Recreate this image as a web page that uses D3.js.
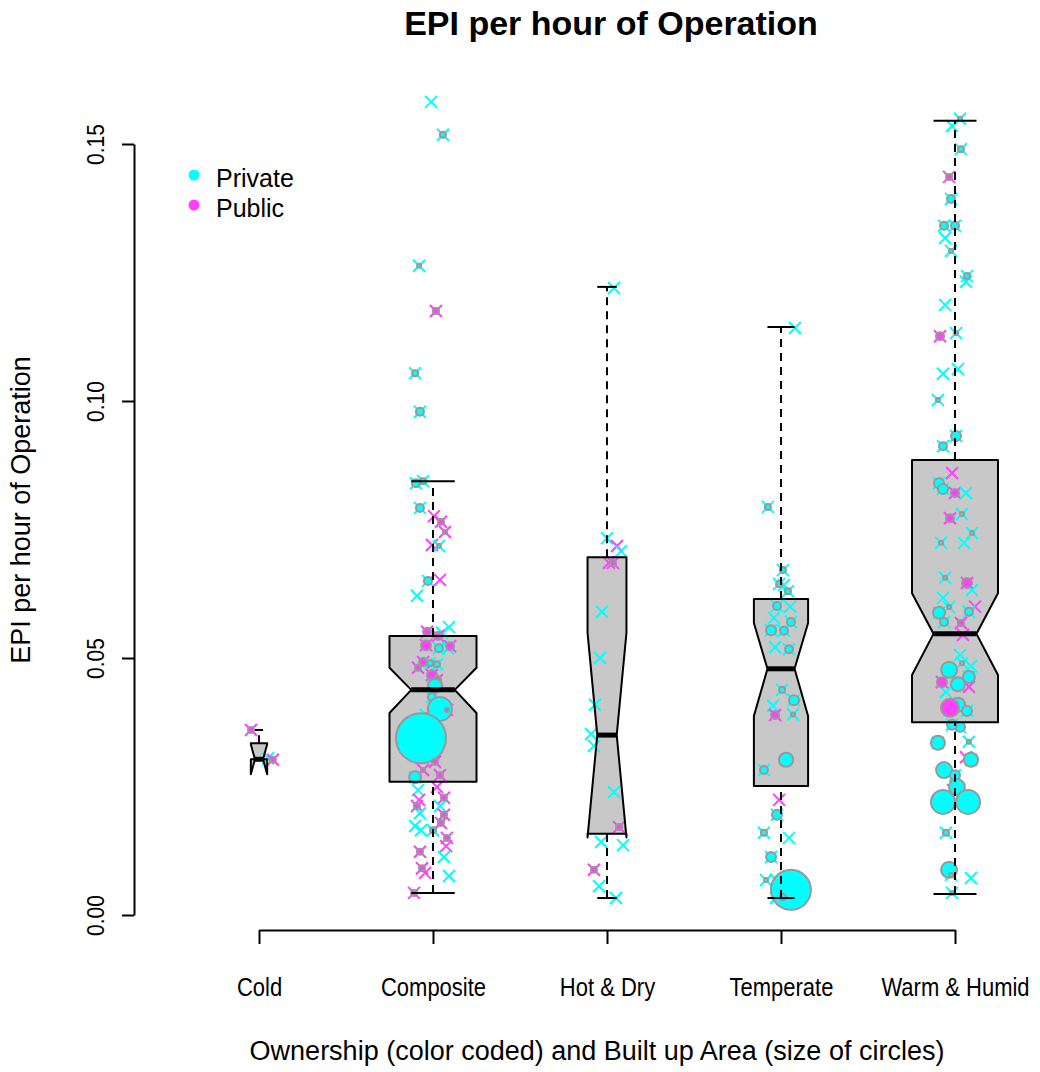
<!DOCTYPE html>
<html><head><meta charset="utf-8">
<script src="https://cdn.jsdelivr.net/npm/d3@7"></script>
<style>
body{margin:0;background:#fff}
svg{display:block}
text{font-family:"Liberation Sans",Arial,Helvetica,sans-serif;fill:#000}
</style>
</head><body>
<svg id="chart" width="1040" height="1072"></svg>
<script>
// ---------------- data ----------------
const categories = ["Cold", "Composite", "Hot & Dry", "Temperate", "Warm & Humid"];
const groupCounts = [3, 85, 17, 33, 83];
// [whiskerLow, q1, median, q3, whiskerHigh, notchLow, notchHigh]
const coldStats      = [0.0302, 0.0303, 0.0303, 0.0334, 0.0360, 0.0274, 0.0332];
const compositeStats = [0.0043, 0.0259, 0.0438, 0.0543, 0.0844, 0.0393, 0.0481];
const hotDryStats    = [0.0033, 0.0158, 0.0350, 0.0696, 0.1222, 0.0151, 0.0549];
const temperateStats = [0.0033, 0.0251, 0.0479, 0.0615, 0.1144, 0.0387, 0.0568];
const warmStats      = [0.0041, 0.0375, 0.0547, 0.0885, 0.1545, 0.0467, 0.0626];
const yTicks = [0, 0.05, 0.10, 0.15];
const ownership = ["Private", "Public"];
const ownerColors = ["#00FFFF", "#FF40FF"];

// points: [EPI per hour, owner (0 private, 1 public), jitter (fraction of category spacing), built-up area (0 = none)]
const coldPoints = [
  [0.0360,1,-0.046,900],[0.0305,0,0.052,0],[0.0302,1,0.080,900]
];
const compositePoints = [
  [0.1582,0,-0.011,0],[0.1518,0,0.057,900],[0.1263,0,-0.080,400],[0.1175,1,0.017,900],
  [0.1054,0,-0.103,900],[0.0979,0,-0.075,1600],[0.0840,0,-0.098,1600],[0.0844,0,-0.057,900],
  [0.0792,0,-0.075,1600],[0.0776,1,0.006,0],[0.0765,1,0.046,900],[0.0745,1,0.069,400],
  [0.0720,1,-0.006,0],[0.0718,0,0.034,400],[0.0650,0,-0.029,1600],[0.0652,1,0.040,0],
  [0.0621,0,-0.092,0],[0.0560,0,0.092,0],[0.0549,0,0.052,0],[0.0551,1,-0.034,1600],
  [0.0543,1,0.029,1600],[0.0523,1,0.098,1600],[0.0525,1,-0.040,2500],[0.0519,0,0.034,1600],
  [0.0519,0,0.086,0],[0.0492,1,-0.057,1600],[0.0481,1,-0.086,900],[0.0490,0,-0.017,900],
  [0.0488,0,0.023,900],[0.0467,1,-0.006,2500],[0.0457,1,0.023,1600],[0.0446,0,0.011,4900],
  [0.0424,0,-0.006,1600],[0.0401,0,0.040,14400],[0.0399,1,0.080,400],[0.0389,0,-0.040,400],
  [0.0375,0,0.006,900],[0.0344,0,-0.069,62500],[0.0298,1,0.011,900],[0.0272,1,0.040,900],
  [0.0268,0,-0.103,3600],[0.0282,1,-0.057,400],[0.0243,0,-0.086,0],[0.0224,1,-0.080,0],
  [0.0249,1,0.023,0],[0.0228,1,0.063,900],[0.0212,0,0.040,0],[0.0212,1,-0.092,900],
  [0.0198,0,-0.075,0],[0.0173,0,-0.103,0],[0.0165,0,0.000,900],[0.0179,1,0.046,900],
  [0.0195,1,0.063,900],[0.0150,1,0.080,900],[0.0134,1,0.075,0],[0.0113,0,0.063,0],
  [0.0123,1,-0.075,900],[0.0091,1,-0.063,900],[0.0082,1,-0.046,0],[0.0076,0,0.092,0],
  [0.0043,1,-0.109,900],[0.0165,0,-0.069,0]
];
const hotDryPoints = [
  [0.1220,0,0.040,0],[0.0733,0,0.000,0],[0.0718,1,0.057,0],[0.0708,0,0.080,0],
  [0.0685,1,0.034,900],[0.0685,1,0.011,0],[0.0590,0,-0.029,0],[0.0500,0,-0.040,0],
  [0.0409,0,-0.069,0],[0.0352,0,-0.092,0],[0.0329,0,-0.075,0],[0.0239,0,0.040,0],
  [0.0171,1,0.069,900],[0.0142,0,-0.034,0],[0.0136,0,0.092,0],[0.0088,1,-0.075,900],
  [0.0056,0,-0.046,0],[0.0033,0,0.052,0]
];
const temperatePoints = [
  [0.1142,0,0.080,0],[0.0794,0,-0.075,900],[0.0671,0,0.011,900],[0.0644,0,-0.011,900],
  [0.0642,0,0.017,0],[0.0630,0,0.040,900],[0.0601,0,-0.023,1600],[0.0600,0,0.052,0],
  [0.0578,0,-0.040,0],[0.0570,0,0.057,1600],[0.0554,0,-0.057,2500],[0.0553,0,0.017,1600],
  [0.0521,0,-0.034,0],[0.0517,0,0.046,1600],[0.0438,0,0.006,900],[0.0407,0,-0.046,0],
  [0.0418,0,0.075,2500],[0.0389,1,-0.034,1600],[0.0390,0,0.069,400],[0.0302,0,0.029,4900],
  [0.0282,0,-0.098,1600],[0.0224,1,-0.011,0],[0.0195,0,-0.023,2500],[0.0160,0,-0.098,900],
  [0.0150,0,0.046,0],[0.0113,0,-0.057,2500],[0.0068,0,-0.086,400],[0.0068,0,-0.029,0],
  [0.0049,0,0.057,40000],[0.0035,0,0.011,900],[0.0033,0,-0.029,0]
];
const warmPoints = [
  [0.1549,0,0.029,400],[0.1535,0,-0.017,0],[0.1490,0,0.034,900],[0.1436,1,-0.034,900],
  [0.1393,0,-0.023,1600],[0.1341,0,-0.063,1600],[0.1341,0,0.000,1600],[0.1317,0,-0.057,0],
  [0.1292,0,-0.023,400],[0.1243,0,0.069,900],[0.1232,0,0.063,0],[0.1187,0,-0.057,0],
  [0.1126,1,-0.086,1600],[0.1132,0,0.006,400],[0.1053,0,-0.069,0],[0.1062,0,0.017,0],
  [0.1002,0,-0.098,400],[0.0932,0,0.006,2500],[0.0912,0,-0.069,1600],[0.0860,1,-0.017,0],
  [0.0840,0,-0.092,2500],[0.0829,0,-0.069,2500],[0.0821,1,0.000,1600],[0.0821,0,0.063,0],
  [0.0772,1,-0.029,1600],[0.0780,0,0.040,400],[0.0743,0,0.098,400],[0.0724,0,-0.080,400],
  [0.0724,0,0.052,0],[0.0656,0,-0.057,400],[0.0646,1,0.069,2500],[0.0632,0,0.098,0],
  [0.0617,0,-0.069,0],[0.0599,0,-0.034,400],[0.0588,0,-0.092,3600],[0.0600,1,0.115,0],
  [0.0590,0,0.080,1600],[0.0570,0,-0.063,1600],[0.0568,1,0.034,900],[0.0545,1,0.046,0],
  [0.0506,0,0.029,0],[0.0490,0,0.040,400],[0.0484,0,0.092,0],[0.0477,0,-0.034,6400],
  [0.0463,0,0.080,3600],[0.0453,1,-0.075,2500],[0.0449,0,0.017,4900],[0.0444,1,0.080,0],
  [0.0434,0,-0.052,0],[0.0409,0,0.017,4900],[0.0403,1,-0.029,8100],[0.0397,0,0.069,2500],
  [0.0366,0,0.029,2500],[0.0370,0,-0.017,2500],[0.0335,0,-0.098,4900],[0.0337,0,0.080,400],
  [0.0302,0,0.092,4900],[0.0307,1,0.063,0],[0.0282,0,-0.063,6400],[0.0272,0,0.000,2500],
  [0.0249,0,0.011,6400],[0.0243,1,-0.011,0],[0.0220,0,-0.069,14400],[0.0220,0,0.075,14400],
  [0.0160,0,-0.052,900],[0.0088,0,-0.034,6400],[0.0078,0,-0.023,400],[0.0072,0,0.092,0],
  [0.0043,0,-0.017,400]
];

const groupStats = [coldStats, compositeStats, hotDryStats, temperateStats, warmStats];
const groupPoints = [coldPoints, compositePoints, hotDryPoints, temperatePoints, warmPoints];

// ---------------- drawing ----------------
const svg = d3.select("#chart");
const x = d3.scalePoint().domain(categories).range([259, 955]);
const y = d3.scaleLinear().domain([0, 0.15]).range([915, 144]);
const step = x.step();
const maxHalf = 43.5;
const halfW = d3.scaleSqrt().domain([0, d3.max(groupCounts)]).range([0, maxHalf]);
const allAreas = groupPoints.flat().map(p => p[3]);
const rScale = d3.scaleSqrt().domain([0, d3.max(allAreas)]).range([0, 25]);

const boxes = categories.map((c, i) => ({cat: c, s: groupStats[i], w: halfW(groupCounts[i])}));

function notchPath(b) {
  const cx = x(b.cat), w = b.w, wn = w * 0.5, s = b.s;
  const xl = cx - w, xr = cx + w, xml = cx - wn, xmr = cx + wn;
  const pts = [
    [xl, y(s[1])], [xl, y(s[5])], [xml, y(s[2])], [xl, y(s[6])], [xl, y(s[3])],
    [xr, y(s[3])], [xr, y(s[6])], [xmr, y(s[2])], [xr, y(s[5])], [xr, y(s[1])]
  ];
  return "M" + pts.map(p => p.join(",")).join("L") + "Z";
}

// box fills
svg.append("g").selectAll("path").data(boxes).join("path")
  .attr("d", notchPath).attr("fill", "#c8c8c8").attr("stroke", "none");

// points
const pts = [];
groupPoints.forEach((arr, i) => arr.forEach(p => pts.push({
  cat: categories[i], v: p[0], o: p[1], j: p[2], a: p[3]
})));
const px = d => x(d.cat) + d.j * step;

const xs = 6;
svg.append("g").selectAll("path").data(pts).join("path")
  .attr("d", d => {
    const cx = px(d), cy = y(d.v);
    return `M${cx - xs},${cy - xs}L${cx + xs},${cy + xs}M${cx - xs},${cy + xs}L${cx + xs},${cy - xs}`;
  })
  .attr("stroke", d => ownerColors[d.o]).attr("stroke-width", 2).attr("fill", "none");

svg.append("g").selectAll("circle").data(pts.filter(d => d.a > 0)).join("circle")
  .attr("cx", px).attr("cy", d => y(d.v)).attr("r", d => rScale(d.a))
  .attr("fill", d => ownerColors[d.o]).attr("stroke", "#999999").attr("stroke-width", 2);

// box outlines
svg.append("g").selectAll("path").data(boxes).join("path")
  .attr("d", notchPath).attr("fill", "none").attr("stroke", "#000").attr("stroke-width", 2)
  .attr("stroke-linejoin", "round");

// whiskers, staples, medians
const wg = svg.append("g");
boxes.forEach(b => {
  const cx = x(b.cat), s = b.s;
  [[s[0], s[1]], [s[3], s[4]]].forEach(([a, c]) => {
    if (a !== c) wg.append("line").attr("x1", cx).attr("x2", cx).attr("y1", y(a)).attr("y2", y(c))
      .attr("stroke", "#000").attr("stroke-width", 2).attr("stroke-dasharray", "8,6");
  });
  [s[0], s[4]].forEach(v => {
    wg.append("line").attr("x1", cx - b.w / 2).attr("x2", cx + b.w / 2).attr("y1", y(v)).attr("y2", y(v))
      .attr("stroke", "#000").attr("stroke-width", 2);
  });
  wg.append("line").attr("x1", cx - b.w / 2).attr("x2", cx + b.w / 2).attr("y1", y(s[2])).attr("y2", y(s[2]))
    .attr("stroke", "#000").attr("stroke-width", 5);
});

// y axis
const yAxis = svg.append("g").attr("transform", "translate(134,0)")
  .call(d3.axisLeft(y).tickValues(yTicks).tickFormat(d3.format(".2f")).tickSize(12).tickSizeOuter(0));
yAxis.select(".domain").attr("stroke-width", 2);
yAxis.selectAll(".tick line").attr("stroke-width", 2);
yAxis.selectAll(".tick text").attr("x", 0).attr("y", 0).attr("dy", 0)
  .attr("transform", "rotate(-90) translate(0,-30) scale(1,1.15)")
  .attr("text-anchor", "middle").style("font-size", "21px");

// x axis
const xAxis = svg.append("g").attr("transform", "translate(0,930)")
  .call(d3.axisBottom(x).tickSize(14).tickSizeOuter(0));
xAxis.select(".domain").attr("stroke-width", 2);
xAxis.selectAll(".tick line").attr("stroke-width", 2);
xAxis.selectAll(".tick text").attr("y", 0).attr("dy", 0)
  .attr("transform", "translate(0,66) scale(1,1.15)").style("font-size", "22px");

// titles
svg.append("text").attr("x", 611).attr("y", 35).attr("text-anchor", "middle")
  .style("font-size", "34px").style("font-weight", "bold").text("EPI per hour of Operation");
svg.append("text").attr("transform", "translate(30,510) rotate(-90)").attr("text-anchor", "middle")
  .style("font-size", "27px").text("EPI per hour of Operation");
svg.append("text").attr("x", 597).attr("y", 1060).attr("text-anchor", "middle")
  .style("font-size", "27px").text("Ownership (color coded) and Built up Area (size of circles)");

// legend
const lg = svg.append("g");
ownership.forEach((o, i) => {
  lg.append("circle").attr("cx", 194).attr("cy", 175 + i * 30).attr("r", 5.5).attr("fill", ownerColors[i]);
  lg.append("text").attr("x", 216).attr("y", 187 + i * 30).style("font-size", "25px").text(o);
});
</script>
</body></html>
